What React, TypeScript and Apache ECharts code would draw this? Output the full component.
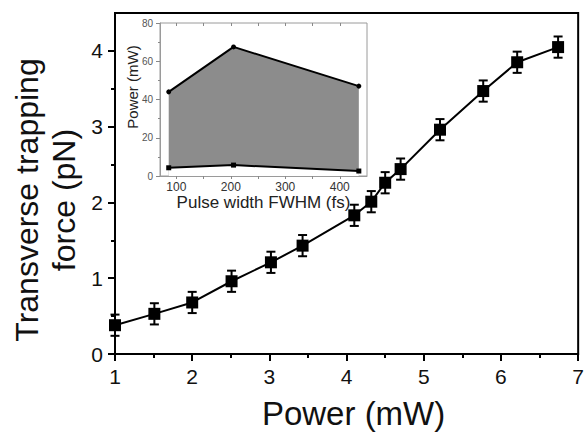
import React, { useEffect, useRef } from "react";
import * as echarts from "echarts";

// Main chart data
const powerMW = [1.0, 1.51, 2.0, 2.51, 3.02, 3.43, 4.1, 4.32, 4.5, 4.7, 5.21, 5.77, 6.21, 6.74];
const forcePN = [0.38, 0.53, 0.68, 0.96, 1.21, 1.43, 1.83, 2.01, 2.26, 2.44, 2.96, 3.47, 3.85, 4.05];
const forceErr = [0.14, 0.14, 0.14, 0.14, 0.14, 0.14, 0.14, 0.14, 0.14, 0.14, 0.14, 0.14, 0.14, 0.14];
const mainXTicks = [1, 2, 3, 4, 5, 6, 7];
const mainYTicks = [0, 1, 2, 3, 4];
const mainYMinorTicks = [0.5, 1.5, 2.5, 3.5];

// Inset data
const pulseWidthFs = [86, 205, 435];
const upperPowerMW = [44, 67.5, 47];
const lowerPowerMW = [4.3, 5.7, 2.6];
const insetXLabels = [100, 200, 300, 400];
const insetXTicks = [100, 150, 200, 250, 300, 350, 400];

const FONT = "'Liberation Sans', Arial, Helvetica, sans-serif";

export default function App() {
  const ref = useRef<HTMLDivElement>(null);

  useEffect(() => {
    if (!ref.current) return;
    const chart = echarts.init(ref.current, undefined, { renderer: "svg" });

    const mainLine = powerMW.map((x, i) => [x, forcePN[i]]);
    const errData = powerMW.map((x, i) => [x, forcePN[i] - forceErr[i], forcePN[i] + forceErr[i]]);
    const upper = pulseWidthFs.map((x, i) => [x, upperPowerMW[i]]);
    const lower = pulseWidthFs.map((x, i) => [x, lowerPowerMW[i]]);

    chart.setOption({
      animation: false,
      textStyle: { fontFamily: FONT },
      grid: [
        {
          left: 115,
          right: 1,
          top: 13,
          bottom: 75,
          show: true,
          borderColor: "#000",
          borderWidth: 2,
          backgroundColor: "transparent",
        },
        {
          left: 160,
          top: 23,
          width: 207,
          height: 153,
          show: true,
          borderColor: "#9a9a9a",
          borderWidth: 1,
          backgroundColor: "#fff",
          z: 1,
        },
      ],
      xAxis: [
        {
          type: "value",
          gridIndex: 0,
          min: 1,
          max: 7,
          interval: 1,
          name: "Power (mW)",
          nameLocation: "middle",
          nameGap: 43,
          nameTextStyle: { fontSize: 33, color: "#111", fontFamily: FONT, padding: [0, 0, 0, 14] },
          axisLine: { show: true, lineStyle: { color: "#000", width: 2 } },
          axisTick: { show: true, inside: false, length: 7, lineStyle: { color: "#000", width: 2 } },
          minorTick: { show: true, splitNumber: 2, length: 4, lineStyle: { color: "#000", width: 2 } },
          axisLabel: {
            fontSize: 21,
            color: "#111",
            margin: 12,
            fontFamily: FONT,
            customValues: mainXTicks,
          },
          splitLine: { show: false },
          minorSplitLine: { show: false },
        },
        {
          type: "value",
          gridIndex: 1,
          min: 70,
          max: 450,
          name: "Pulse width FWHM (fs)",
          nameLocation: "middle",
          nameGap: 18,
          nameTextStyle: { fontSize: 17, color: "#222", fontFamily: FONT },
          axisLine: { show: true, lineStyle: { color: "#9a9a9a", width: 1 } },
          axisTick: {
            show: true,
            inside: false,
            length: 3,
            customValues: insetXTicks,
            lineStyle: { color: "#888", width: 1 },
          },
          axisLabel: {
            fontSize: 12,
            color: "#333",
            margin: 5,
            fontFamily: FONT,
            customValues: insetXLabels,
          },
          splitLine: { show: false },
          z: 5,
        },
        {
          type: "value",
          gridIndex: 1,
          position: "top",
          min: 70,
          max: 450,
          axisLine: { show: false },
          axisTick: {
            show: true,
            inside: true,
            length: 3,
            customValues: insetXTicks,
            lineStyle: { color: "#888", width: 1 },
          },
          axisLabel: { show: false },
          splitLine: { show: false },
          z: 5,
        },
      ],
      yAxis: [
        {
          type: "value",
          gridIndex: 0,
          min: 0,
          max: 4.5,
          axisLine: { show: true, lineStyle: { color: "#000", width: 2 } },
          axisTick: {
            show: true,
            inside: false,
            length: 7,
            customValues: mainYTicks,
            lineStyle: { color: "#000", width: 2 },
          },
          axisLabel: {
            fontSize: 21,
            color: "#111",
            margin: 12,
            fontFamily: FONT,
            customValues: mainYTicks,
          },
          splitLine: { show: false },
        },
        {
          type: "value",
          gridIndex: 0,
          position: "left",
          min: 0,
          max: 4.5,
          axisLine: { show: false },
          axisTick: {
            show: true,
            inside: false,
            length: 4,
            customValues: mainYMinorTicks,
            lineStyle: { color: "#000", width: 2 },
          },
          axisLabel: { show: false },
          splitLine: { show: false },
        },
        {
          type: "value",
          gridIndex: 1,
          min: 0,
          max: 80,
          interval: 20,
          axisLine: { show: true, lineStyle: { color: "#9a9a9a", width: 1 } },
          axisTick: { show: true, inside: false, length: 4, lineStyle: { color: "#888", width: 1 } },
          minorTick: { show: true, splitNumber: 2, length: 2, lineStyle: { color: "#888", width: 1 } },
          axisLabel: { fontSize: 10, color: "#555", margin: 7, fontFamily: FONT },
          splitLine: { show: false },
          minorSplitLine: { show: false },
          z: 5,
        },
      ],
      graphic: [
        {
          type: "text",
          x: 45,
          y: 200,
          rotation: Math.PI / 2,
          style: {
            text: "Transverse trapping\nforce (pN)",
            fontSize: 32,
            lineHeight: 37,
            fontFamily: FONT,
            fill: "#111",
            align: "center",
            verticalAlign: "middle",
          },
        },
        {
          type: "text",
          x: 132,
          y: 87,
          rotation: Math.PI / 2,
          z: 10,
          style: {
            text: "Power (mW)",
            fontSize: 15,
            fontFamily: FONT,
            fill: "#222",
            align: "center",
            verticalAlign: "middle",
          },
        },
      ],
      series: [
        {
          type: "custom",
          xAxisIndex: 0,
          yAxisIndex: 0,
          data: errData,
          encode: { x: 0, y: [1, 2] },
          z: 3,
          renderItem: (params: any, api: any) => {
            const x = api.value(0);
            const top = api.coord([x, api.value(2)]);
            const bot = api.coord([x, api.value(1)]);
            const w = 4.5;
            const st = { stroke: "#000", lineWidth: 2 };
            return {
              type: "group",
              children: [
                { type: "line", shape: { x1: top[0], y1: top[1], x2: bot[0], y2: bot[1] }, style: st },
                { type: "line", shape: { x1: top[0] - w, y1: top[1], x2: top[0] + w, y2: top[1] }, style: st },
                { type: "line", shape: { x1: bot[0] - w, y1: bot[1], x2: bot[0] + w, y2: bot[1] }, style: st },
              ],
            };
          },
        },
        {
          type: "line",
          xAxisIndex: 0,
          yAxisIndex: 0,
          data: mainLine,
          symbol: "rect",
          symbolSize: 12,
          lineStyle: { color: "#000", width: 2 },
          itemStyle: { color: "#000" },
          z: 4,
        },
        {
          type: "line",
          xAxisIndex: 1,
          yAxisIndex: 2,
          data: upper,
          symbol: "circle",
          symbolSize: 5,
          lineStyle: { color: "#000", width: 2 },
          itemStyle: { color: "#000" },
          areaStyle: { color: "#8c8c8c", opacity: 1 },
          z: 2,
        },
        {
          type: "line",
          xAxisIndex: 1,
          yAxisIndex: 2,
          data: lower,
          symbol: "rect",
          symbolSize: 5,
          lineStyle: { color: "#000", width: 2 },
          itemStyle: { color: "#000" },
          areaStyle: { color: "#ffffff", opacity: 1 },
          z: 3,
        },
      ],
    });

    return () => chart.dispose();
  }, []);

  return <div ref={ref} style={{ width: 587, height: 435, position: "absolute", left: 0, top: 0 }} />;
}
